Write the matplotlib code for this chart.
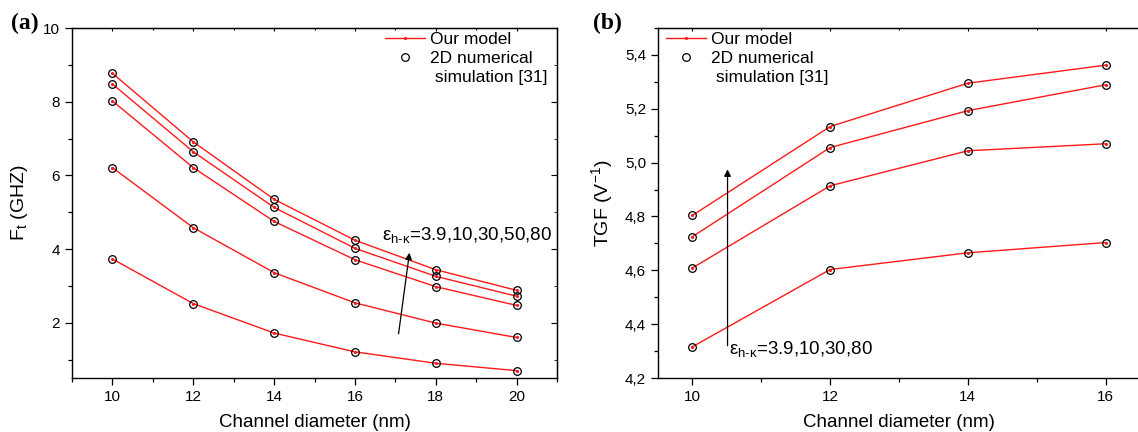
import matplotlib
matplotlib.use("Agg")
import matplotlib.pyplot as plt
from matplotlib.lines import Line2D
from matplotlib.ticker import MultipleLocator, FuncFormatter

plt.rcParams['font.family'] = ['Liberation Sans', 'DejaVu Sans']
plt.rcParams['mathtext.fontset'] = 'custom'
plt.rcParams['mathtext.rm'] = 'Liberation Sans'
plt.rcParams['mathtext.it'] = 'Liberation Sans:italic'

# (a) cut-off frequency vs channel diameter
diam_a = [10, 12, 14, 16, 18, 20]
ft_k39 = [3.73, 2.52, 1.72, 1.21, 0.90, 0.70]
ft_k10 = [6.21, 4.58, 3.36, 2.54, 1.99, 1.60]
ft_k30 = [8.02, 6.21, 4.75, 3.71, 2.98, 2.47]
ft_k50 = [8.48, 6.64, 5.13, 4.02, 3.26, 2.72]
ft_k80 = [8.77, 6.91, 5.35, 4.24, 3.44, 2.88]

# (b) transconductance generation factor vs channel diameter
diam_b = [10, 12, 14, 16]
tgf_k39 = [4.316, 4.603, 4.665, 4.703]
tgf_k10 = [4.609, 4.914, 5.044, 5.070]
tgf_k30 = [4.725, 5.056, 5.193, 5.289]
tgf_k80 = [4.804, 5.134, 5.295, 5.362]

RED = '#ff1a1a'

fig = plt.figure(figsize=(11.38, 4.32), dpi=100)
axa = fig.add_axes([72/1138, 1-378/432, 485/1138, 350/432])
axb = fig.add_axes([658/1138, 1-378/432, 482/1138, 350/432])


def draw(ax, x, series):
    for ys in series:
        ax.plot(x, ys, color=RED, lw=1.0, marker='.', ms=2.5, zorder=2)
        ax.plot(x, ys, ls='none', marker='o', ms=5.5, mfc='none',
                mec='black', mew=0.9, zorder=3)


def style(ax, mirror_right=True):
    ax.tick_params(which='both', direction='out', labelsize=11,
                   top=False, right=False)
    ax.tick_params(which='major', length=5, width=0.9)
    ax.tick_params(which='minor', length=3, width=0.9)
    for s in ax.spines.values():
        s.set_linewidth(1.0)
    # mirrored inward ticks on top / right
    top = ax.secondary_xaxis('top')
    top.xaxis.set_major_locator(ax.xaxis.get_major_locator())
    top.xaxis.set_minor_locator(ax.xaxis.get_minor_locator())
    top.tick_params(which='both', direction='in', labeltop=False, width=0.8)
    top.tick_params(which='major', length=2.5)
    top.tick_params(which='minor', length=1.5)
    if mirror_right:
        right = ax.secondary_yaxis('right')
        right.yaxis.set_major_locator(ax.yaxis.get_major_locator())
        right.yaxis.set_minor_locator(ax.yaxis.get_minor_locator())
        right.tick_params(which='both', direction='in', labelright=False)
        right.tick_params(which='major', length=4)
        right.tick_params(which='minor', length=2)


def add_legend(ax, anchor):
    handles = [
        Line2D([], [], color=RED, lw=1.0, marker='.', ms=2.5),
        Line2D([], [], ls='none', marker='o', ms=5.5, mfc='none', mec='black', mew=0.9),
        Line2D([], [], ls='none'),
    ]
    labels = ['Our model', '2D numerical', ' simulation [31]']
    ax.legend(handles, labels, loc='upper left', bbox_to_anchor=anchor,
              frameon=False, fontsize=12.5, handlelength=2.3, handletextpad=0.3,
              labelspacing=0.24, borderpad=0, borderaxespad=0)


# ---- panel (a)
draw(axa, diam_a, [ft_k39, ft_k10, ft_k30, ft_k50, ft_k80])
axa.set_xlim(9, 21)
axa.set_ylim(0.5, 10)
axa.xaxis.set_major_locator(MultipleLocator(2))
axa.xaxis.set_minor_locator(MultipleLocator(1))
axa.yaxis.set_major_locator(MultipleLocator(2))
axa.yaxis.set_minor_locator(MultipleLocator(1))
style(axa)
axa.set_xlabel('Channel diameter (nm)', fontsize=13.5, labelpad=7)
axa.set_ylabel(r'F$_\mathregular{t}$ (GHZ)', fontsize=14)
axa.yaxis.set_label_coords(-0.087, 0.5)
add_legend(axa, (0.645, 0.99))
axa.annotate('', xy=(17.35, 3.9), xytext=(17.08, 1.7),
             arrowprops=dict(arrowstyle='-|>', color='black', lw=0.9,
                             mutation_scale=10, shrinkA=0, shrinkB=0))
axa.text(16.68, 4.25, r'ε$_\mathregular{h\text{-}κ}$=3.9,10,30,50,80',
         fontsize=13.5, va='baseline', ha='left')

# ---- panel (b)
draw(axb, diam_b, [tgf_k39, tgf_k10, tgf_k30, tgf_k80])
axb.set_xlim(9.5, 16.5)
axb.set_ylim(4.2, 5.5)
axb.xaxis.set_major_locator(MultipleLocator(2))
axb.xaxis.set_minor_locator(MultipleLocator(1))
axb.yaxis.set_major_locator(MultipleLocator(0.2))
axb.yaxis.set_minor_locator(MultipleLocator(0.1))
axb.yaxis.set_major_formatter(FuncFormatter(lambda v, p: f'{v:.1f}'.replace('.', ',')))
style(axb, mirror_right=False)
axb.set_xlabel('Channel diameter (nm)', fontsize=13.5, labelpad=7)
axb.set_ylabel(r'TGF (V$^\mathregular{-1}$)', fontsize=14)
axb.yaxis.set_label_coords(-0.09, 0.5)
add_legend(axb, (0.016, 0.99))
axb.annotate('', xy=(10.51, 4.975), xytext=(10.51, 4.32),
             arrowprops=dict(arrowstyle='-|>', color='black', lw=0.9,
                             mutation_scale=10, shrinkA=0, shrinkB=0))
axb.text(10.53, 4.289, r'ε$_\mathregular{h\text{-}κ}$=3.9,10,30,80',
         fontsize=13.5, va='baseline', ha='left')

fig.text(11/1138, 1-29/432, '(a)', family='Liberation Serif', weight='bold',
         fontsize=17, va='baseline')
fig.text(593/1138, 1-29/432, '(b)', family='Liberation Serif', weight='bold',
         fontsize=17, va='baseline')

fig.savefig('out.png', dpi=100)
